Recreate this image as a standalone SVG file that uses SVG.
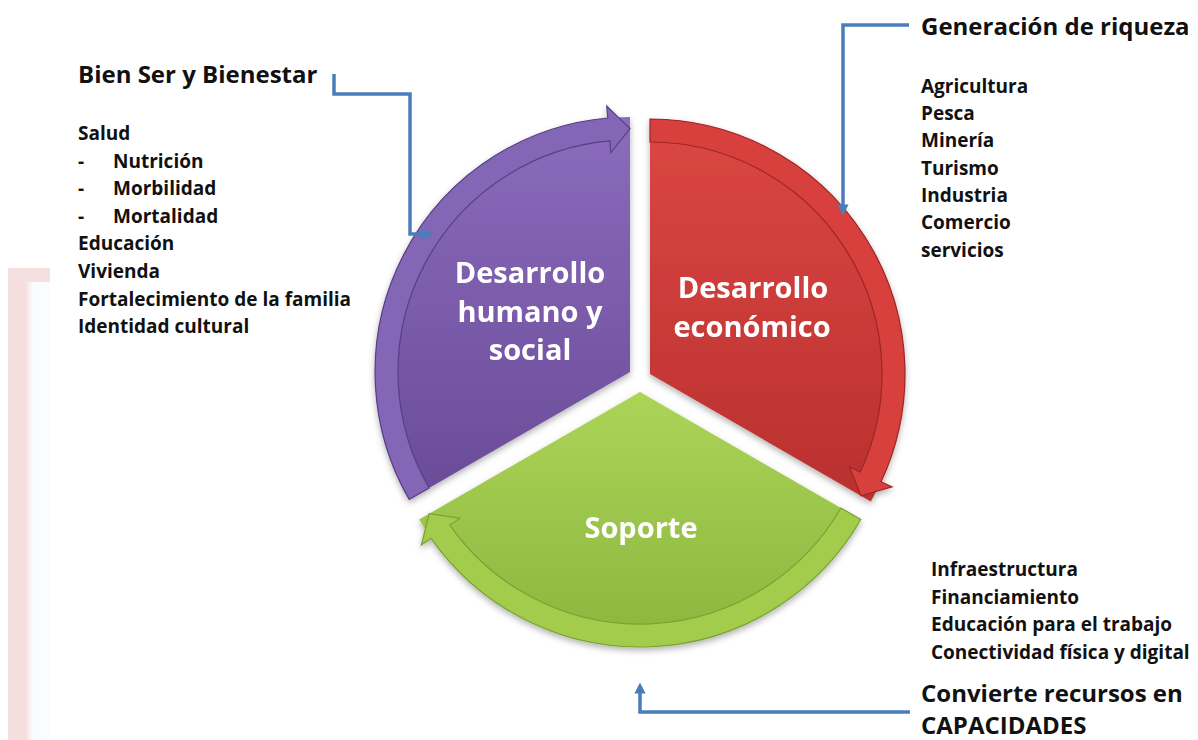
<svg xmlns="http://www.w3.org/2000/svg" width="1198" height="740" viewBox="0 0 1198 740">
  <defs>
    <style>
      .t { font-family: "Open Sans", "Liberation Sans", sans-serif; font-weight: 700; fill: #111; }
      .h { font-size: 24px; }
      .l { font-size: 19px; }
      .w { font-family: "Open Sans", "Liberation Sans", sans-serif; font-weight: 700; font-size: 29px; fill: #fff; text-anchor: middle; }
      .con { fill: none; stroke: #4a7ebb; stroke-width: 3.5; }
      .band { stroke-width: 1.2; }
    </style>
    <linearGradient id="gP" x1="0" y1="0" x2="0" y2="1">
      <stop offset="0" stop-color="#8b6cbd"/>
      <stop offset="1" stop-color="#6a4b98"/>
    </linearGradient>
    <linearGradient id="gR" x1="0" y1="0" x2="0" y2="1">
      <stop offset="0" stop-color="#dc4744"/>
      <stop offset="1" stop-color="#b9302e"/>
    </linearGradient>
    <linearGradient id="gG" x1="0" y1="0" x2="0" y2="1">
      <stop offset="0" stop-color="#acd458"/>
      <stop offset="1" stop-color="#8ab63e"/>
    </linearGradient>
    <filter id="sh" x="-10%" y="-10%" width="120%" height="125%">
      <feDropShadow dx="0" dy="3" stdDeviation="3" flood-color="#000" flood-opacity="0.3"/>
    </filter>
    <marker id="ah" viewBox="0 0 10 10" refX="5" refY="5" markerWidth="3.2" markerHeight="3.2" orient="auto">
      <path d="M0 0 L10 5 L0 10 Z" fill="#4a7ebb"/>
    </marker>
    <linearGradient id="pink" x1="0" y1="0" x2="1" y2="0">
      <stop offset="0" stop-color="#f4dede"/>
      <stop offset="0.4" stop-color="#f4dede"/>
      <stop offset="0.6" stop-color="#fbfcff"/>
      <stop offset="1" stop-color="#fbfcff"/>
    </linearGradient>
  </defs>

  <rect width="1198" height="740" fill="#fff"/>

  <!-- decorative pink frame at left -->
  <g id="frame">
    <rect x="8" y="268" width="42" height="472" fill="url(#pink)"/>
    <rect x="8" y="268" width="42" height="14" fill="#f4e0de"/>
  </g>

  <!-- Purple segment -->
  <g id="seg-humano" filter="url(#sh)">
    <path d="M630 372 L409.2 499.5 A255 255 0 0 1 630 117 Z" fill="url(#gP)"/>
    <path class="band" d="M409.2 499.5 A255 255 0 0 1 607.8 118 L606.7 106 L630 128.5 L610.8 152.8 L609.8 140.9 A232 232 0 0 0 429.1 488 Z" fill="#8466b6" stroke="#5a3e86"/>
    <text class="w" x="530" y="283">Desarrollo</text>
    <text class="w" x="530" y="322">humano y</text>
    <text class="w" x="530" y="360">social</text>
  </g>

  <!-- Red segment -->
  <g id="seg-economico" filter="url(#sh)">
    <path d="M650 374 L650 119 A255 255 0 0 1 870.8 501.5 Z" fill="url(#gR)"/>
    <path class="band" d="M650 119 A255 255 0 0 1 881.1 481.8 L892 486.8 L860.9 495.75 L849.4 467 L860.3 472 A232 232 0 0 0 650 142 Z" fill="#d8403d" stroke="#9e2624"/>
    <text class="w" x="753" y="298">Desarrollo</text>
    <text class="w" x="752" y="337">económico</text>
  </g>

  <!-- Green segment -->
  <g id="seg-soporte" filter="url(#sh)">
    <path d="M640 392 L860.8 519.5 A255 255 0 0 1 419.2 519.5 Z" fill="url(#gG)"/>
    <path class="band" d="M860.8 519.5 A255 255 0 0 1 431.1 538.3 L421.3 545.1 L429.1 513.75 L459.8 518.2 L449.9 525.1 A232 232 0 0 0 840.9 508 Z" fill="#a3cc4e" stroke="#78a232"/>
    <text class="w" x="641" y="538">Soporte</text>
  </g>

  <!-- Connectors -->
  <g id="connectors">
    <path class="con" d="M334 74 V94 H410 V234 H428" marker-end="url(#ah)"/>
    <path class="con" d="M909 25 H843 V210" marker-end="url(#ah)"/>
    <path class="con" d="M910 712 H640 V688" marker-end="url(#ah)"/>
  </g>

  <!-- Left text block -->
  <g id="bienestar">
    <text class="t h" x="78" y="83">Bien Ser y Bienestar</text>
    <text class="t l" x="78" y="140">Salud</text>
    <text class="t l" x="78" y="168">-</text>
    <text class="t l" x="113" y="168">Nutrición</text>
    <text class="t l" x="78" y="195">-</text>
    <text class="t l" x="113" y="195">Morbilidad</text>
    <text class="t l" x="78" y="223">-</text>
    <text class="t l" x="113" y="223">Mortalidad</text>
    <text class="t l" x="78" y="250">Educación</text>
    <text class="t l" x="78" y="278">Vivienda</text>
    <text class="t l" x="78" y="306">Fortalecimiento de la familia</text>
    <text class="t l" x="78" y="333">Identidad cultural</text>
  </g>

  <!-- Right top text block -->
  <g id="riqueza">
    <text class="t h" x="921" y="35">Generación de riqueza</text>
    <text class="t l" x="921" y="93">Agricultura</text>
    <text class="t l" x="921" y="120">Pesca</text>
    <text class="t l" x="921" y="147">Minería</text>
    <text class="t l" x="921" y="175">Turismo</text>
    <text class="t l" x="921" y="202">Industria</text>
    <text class="t l" x="921" y="229">Comercio</text>
    <text class="t l" x="921" y="257">servicios</text>
  </g>

  <!-- Bottom right text block -->
  <g id="capacidades">
    <text class="t l" x="931" y="576">Infraestructura</text>
    <text class="t l" x="931" y="604">Financiamiento</text>
    <text class="t l" x="931" y="631">Educación para el trabajo</text>
    <text class="t l" x="931" y="659">Conectividad física y digital</text>
    <text class="t h" x="921" y="702">Convierte recursos en</text>
    <text class="t h" x="921" y="734">CAPACIDADES</text>
  </g>
</svg>
